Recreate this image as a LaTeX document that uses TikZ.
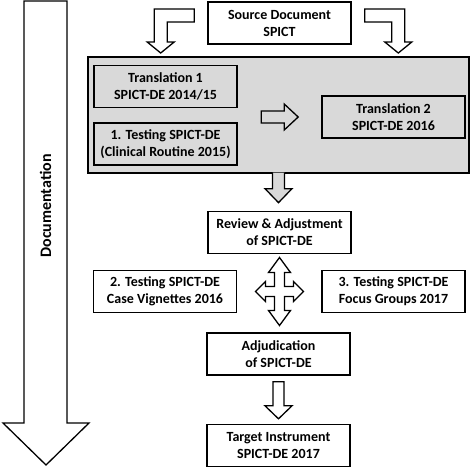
\documentclass[tikz,border=0pt]{standalone}
\usepackage{fontspec}
\setmainfont{Carlito}
\usepackage{tikz}
\usetikzlibrary{positioning,calc}

\definecolor{boxgray}{RGB}{217,217,217}

\tikzset{
    box/.style={draw, line width=1.6pt, fill=white, minimum width=143pt, minimum height=42pt,
        inner sep=0pt, align=center, font=\bfseries\fontsize{14}{17}\selectfont},
    inbox/.style={box, fill=boxgray},
    grpbox/.style={draw, line width=1.3pt, fill=boxgray, minimum width=381pt, minimum height=116pt, inner sep=0pt},
    blockarrow/.style={draw, line width=1.3pt, fill=white, line join=miter},
}

\begin{document}
\begin{tikzpicture}[x=1pt, y=-1pt]
    \useasboundingbox (0,0) rectangle (472,469);

    \draw[blockarrow] (24,1) -- (67,1) -- (67,423) -- (89,423) -- (46,465) -- (3,423) -- (24,423) -- cycle;
    \node[rotate=90, font=\bfseries\fontsize{16}{19}\selectfont] (doc) at (45.5,206) {Documentation};

    \node[box] (src) at (279.5,23) {Source Document\\SPICT};

    % translation block
    \node[grpbox] (grp) at (278.5,115) {};
    \node[inbox] (tr1) at (165.5,86.5) {Translation 1\\SPICT-DE 2014/15};
    \node[inbox] (test1) at (165.5,144) {1. Testing SPICT-DE\\(Clinical Routine 2015)};
    \node[inbox] (tr2) at (393.5,117) {Translation 2\\SPICT-DE 2016};

    \draw[blockarrow, shift={(src.west)}] (-13,-14) -- (-53,-14) -- (-53,19) -- (-60,19) -- (-46.5,30)
        -- (-33,19) -- (-40,19) -- (-40,-1) -- (-13,-1) -- cycle;
    \draw[blockarrow, shift={(src.east)}] (13,-14) -- (53,-14) -- (53,19) -- (60,19) -- (46.5,30)
        -- (33,19) -- (40,19) -- (40,-1) -- (13,-1) -- cycle;
    \draw[blockarrow, fill=boxgray, shift={(tr2.west)}] (-60,-6) -- (-37,-6) -- (-37,-13) -- (-23,0)
        -- (-37,13) -- (-37,6) -- (-60,6) -- cycle;
    \draw[blockarrow, fill=boxgray, shift={(grp.south)}] (-6,-1) -- (-6,15) -- (-13.5,15) -- (0,29)
        -- (13.5,15) -- (6,15) -- (6,-1);

    % review and testing
    \node[box] (review) at (279.5,232.5) {Review \& Adjustment\\of SPICT-DE};
    \node[box] (test2) at (165,291.5) {2. Testing SPICT-DE\\Case Vignettes 2016};
    \node[box] (test3) at (393.5,291.5) {3. Testing SPICT-DE\\Focus Groups 2017};
    \node[box] (adj) at (278.5,354) {Adjudication\\of SPICT-DE};
    \node[box] (target) at (278.5,445.5) {Target Instrument\\SPICT-DE 2017};

    \coordinate (cross) at (review.south |- test2.east);
    \draw[blockarrow, shift={(cross)}] (0,-34) -- (11,-19) -- (5,-19) -- (5,-5) -- (14,-5) -- (14,-10)
        -- (24,0) -- (14,10) -- (14,5) -- (5,5) -- (5,19) -- (11,19) -- (0,34) -- (-11,19) -- (-5,19)
        -- (-5,5) -- (-14,5) -- (-14,10) -- (-24,0) -- (-14,-10) -- (-14,-5) -- (-5,-5) -- (-5,-19)
        -- (-11,-19) -- cycle;
    \draw[blockarrow, shift={(adj.south)}] (-5.5,6) -- (-5.5,30) -- (-13.5,30) -- (0,43) -- (13.5,30)
        -- (5.5,30) -- (5.5,6) -- cycle;
\end{tikzpicture}
\end{document}
